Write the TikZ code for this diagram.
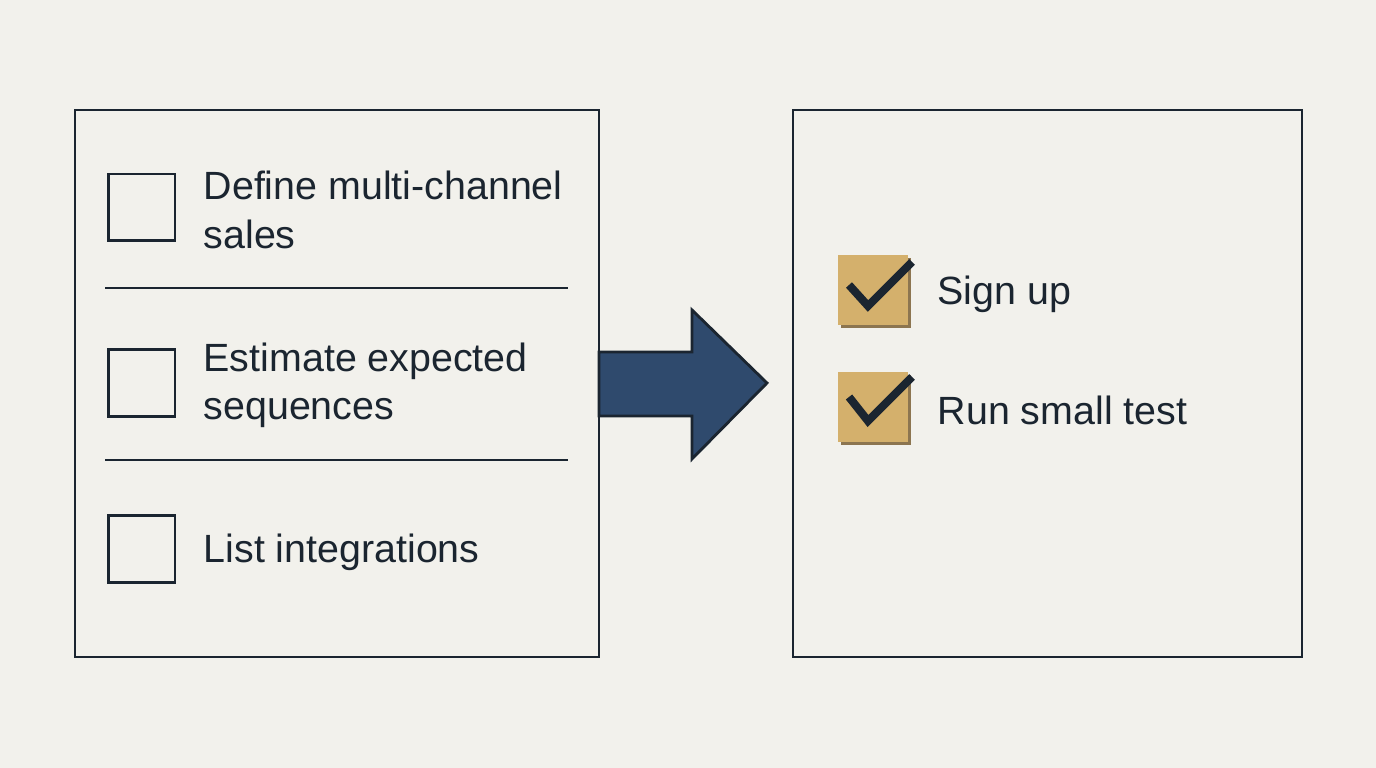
\documentclass[tikz,border=0pt]{standalone}
\usepackage{fontspec}
\setmainfont{Liberation Sans}
\definecolor{paper}{HTML}{F2F1EC}
\definecolor{ink}{HTML}{1B2530}
\definecolor{navy}{HTML}{2F4A6D}
\definecolor{gold}{HTML}{D4B06C}
\definecolor{goldshade}{HTML}{8C7550}
\tikzset{
  panel/.style={draw=ink, line width=0.8pt},
  tickbox/.style={draw=ink, line width=0.8pt, minimum width=19pt, minimum height=19pt, inner sep=0pt},
  donebox/.style={fill=gold, minimum width=19.8pt, minimum height=19.8pt, inner sep=0pt},
  item/.style={anchor=west, inner sep=0pt, align=left, text=ink, font=\fontsize{11.2}{13.7}\selectfont},
  tick/.style={draw=ink, line width=2.3pt}
}
\begin{document}
\begin{tikzpicture}[x=0.01cm, y=-0.01cm]
  \fill[paper] (0,0) rectangle (1376,768);

  % to do (left)
  \draw[panel] (75,110) rectangle (599,657);
  \node[tickbox] (box1) at (141.5,207.5) {};
  \node[item] (txt1) at (203,210) {Define multi-channel\\sales};
  \draw[panel] (105,288) -- (568,288);
  \node[tickbox] (box2) at (141.5,383) {};
  \node[item] (txt2) at (203,385) {Estimate expected\\sequences};
  \draw[panel] (105,460) -- (568,460);
  \node[tickbox] (box3) at (141.5,549) {};
  \node[item] (txt3) at (203,552) {List integrations};

  % arrow
  \filldraw[fill=navy, draw=ink, line width=0.8pt, line join=miter]
    (599,352) -- (692,352) -- (692,310) -- (767,383) -- (692,459) -- (692,416) -- (599,416) -- cycle;

  % done (right)
  \draw[panel] (793,110) rectangle (1302,657);
  \fill[goldshade] (841,258) rectangle (911,328);
  \node[donebox] (done1) at (873,290) {};
  \draw[tick] (849,285) -- (868,306) -- (912,262);
  \node[item] (txt4) at (937,294) {Sign up};
  \fill[goldshade] (841,375) rectangle (911,445);
  \node[donebox] (done2) at (873,407) {};
  \draw[tick] (849,397) -- (868,421) -- (912,377);
  \node[item] (txt5) at (937,410) {Run small test};
\end{tikzpicture}
\end{document}
